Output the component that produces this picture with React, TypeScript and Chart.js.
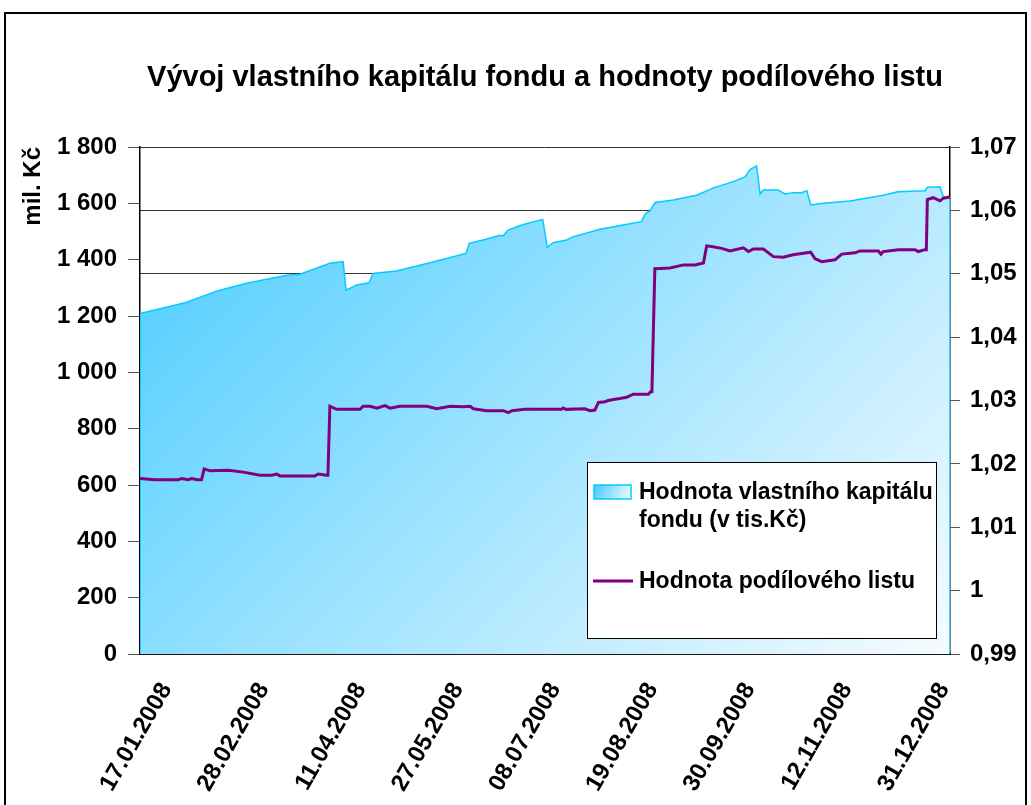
import React, { useEffect, useRef } from "react";
import { Chart, registerables } from "chart.js";

Chart.register(...registerables);

// ---------- data ----------
const chartTitle = "Vývoj vlastního kapitálu fondu a hodnoty podílového listu";
const yAxisTitle = "mil. Kč";
const legendLines = [
  ["Hodnota vlastního kapitálu", "fondu (v tis.Kč)"],
  ["Hodnota podílového listu"],
];

// x = trading-day index (0 = first day shown)
const xTickIndex = [10, 40, 70, 100, 130, 160, 190, 220, 250];
const xTickLabels = [
  "17.01.2008", "28.02.2008", "11.04.2008", "27.05.2008", "08.07.2008",
  "19.08.2008", "30.09.2008", "12.11.2008", "31.12.2008",
];

const capitalIdx = [0, 13.9, 24.1, 32.9, 45.3, 49.4, 58.6, 62.7, 63.6, 66.9, 70.7, 71.9, 79.2, 89.5, 100.6, 101.6, 105.9, 111.1, 112.0, 113.6, 117.8, 124.3, 125.7, 127.5, 131.7, 133.6, 142.0, 149.1, 154.8, 155.9, 157.4, 159.0, 164.6, 171.8, 177.0, 183.1, 186.7, 188.3, 190.3, 191.4, 192.4, 197.0, 199.1, 201.6, 204.2, 205.8, 207.0, 210.9, 219.1, 223.2, 229.4, 234.0, 242.3, 243.0, 246.9, 247.9, 249.8, 250];
const capitalVal = [1209, 1247, 1290, 1316, 1345, 1348, 1387, 1393, 1292, 1310, 1318, 1351, 1360, 1389, 1422, 1458, 1470, 1487, 1484, 1505, 1523, 1543, 1444, 1460, 1470, 1481, 1508, 1523, 1535, 1562, 1574, 1603, 1612, 1629, 1655, 1677, 1694, 1720, 1733, 1633, 1647, 1647, 1633, 1638, 1638, 1645, 1594, 1600, 1608, 1616, 1629, 1641, 1645, 1657, 1659, 1624, 1617, 1617];

const shareIdx = [0, 4.6, 11.8, 12.9, 14.8, 16.0, 17.6, 19.0, 19.8, 21.6, 27.3, 31.9, 37.0, 40.7, 42.2, 43.2, 54.0, 55.0, 57.6, 58.0, 58.6, 60.7, 67.9, 68.9, 71.0, 73.1, 75.6, 77.2, 80.2, 88.5, 91.6, 95.7, 99.8, 101.9, 102.9, 107.0, 112.1, 113.7, 114.8, 118.8, 130.1, 130.6, 131.5, 137.3, 138.9, 140.4, 141.5, 143.5, 144.5, 146.6, 148.1, 150.2, 152.2, 156.9, 157.6, 158.0, 158.9, 163.6, 167.7, 171.3, 173.9, 174.9, 176.4, 179.5, 182.1, 186.2, 187.8, 189.3, 192.4, 195.5, 198.5, 201.6, 207.0, 208.3, 210.4, 214.5, 216.6, 220.7, 222.2, 227.9, 228.7, 229.4, 234.0, 239.2, 240.2, 242.3, 242.7, 243.0, 244.8, 246.9, 247.9, 249.8, 250];
const shareVal = [1.0177, 1.0175, 1.0175, 1.0177, 1.0175, 1.0177, 1.0175, 1.0175, 1.0192, 1.0189, 1.0190, 1.0187, 1.0182, 1.0182, 1.0184, 1.0181, 1.0181, 1.0184, 1.0182, 1.0182, 1.0291, 1.0286, 1.0286, 1.0291, 1.0291, 1.0288, 1.0292, 1.0288, 1.0291, 1.0291, 1.0287, 1.0291, 1.0290, 1.0291, 1.0287, 1.0284, 1.0284, 1.0281, 1.0284, 1.0286, 1.0286, 1.0288, 1.0286, 1.0287, 1.0284, 1.0285, 1.0297, 1.0298, 1.0300, 1.0302, 1.0303, 1.0305, 1.0310, 1.0310, 1.0314, 1.0314, 1.0508, 1.0509, 1.0514, 1.0514, 1.0517, 1.0544, 1.0543, 1.0540, 1.0536, 1.0541, 1.0535, 1.0539, 1.0539, 1.0527, 1.0526, 1.0530, 1.0534, 1.0524, 1.0519, 1.0522, 1.0531, 1.0533, 1.0536, 1.0536, 1.0531, 1.0535, 1.0538, 1.0538, 1.0535, 1.0538, 1.0538, 1.0617, 1.0620, 1.0615, 1.0619, 1.0621, 1.0622];

// ---------- styling ----------
const FONT = '"Liberation Sans", Arial, Helvetica, sans-serif';
const CYAN = "#00ccff";
const PURPLE = "#800080";
const GRAD_START = "#45cbff";
const GRAD_END = "#f6fbff";

const fmtThousands = (v: number) =>
  v >= 1000 ? Math.floor(v / 1000) + " " + String(v % 1000).padStart(3, "0") : String(v);
const fmtDecimal = (v: number) => String(Math.round(v * 100) / 100).replace(".", ",");

function areaGradient(ctx: CanvasRenderingContext2D, a: { left: number; top: number; right: number; bottom: number }) {
  const s = (a.right - a.left + (a.bottom - a.top)) / 2;
  const g = ctx.createLinearGradient(a.left, a.top, a.left + s, a.top + s);
  g.addColorStop(0, GRAD_START);
  g.addColorStop(1, GRAD_END);
  return g;
}

const framePlugin = {
  id: "frameAndTitle",
  beforeDraw(chart: any) {
    const ctx = chart.ctx as CanvasRenderingContext2D;
    ctx.save();
    ctx.fillStyle = "#ffffff";
    ctx.fillRect(0, 0, chart.width, chart.height);
    ctx.strokeStyle = "#000";
    ctx.lineWidth = 2;
    ctx.beginPath();
    ctx.moveTo(5, chart.height + 5);
    ctx.lineTo(5, 13);
    ctx.lineTo(1026, 13);
    ctx.lineTo(1026, chart.height + 5);
    ctx.stroke();
    ctx.fillStyle = "#000";
    ctx.font = `bold 29px ${FONT}`;
    ctx.textAlign = "center";
    ctx.textBaseline = "middle";
    ctx.fillText(chartTitle, 545, 78);
    ctx.restore();
  },
};

const legendPlugin = {
  id: "customLegend",
  afterDraw(chart: any) {
    const ctx = chart.ctx as CanvasRenderingContext2D;
    ctx.save();
    const bx = 587, by = 462, bw = 349, bh = 176;
    ctx.fillStyle = "#fff";
    ctx.fillRect(bx, by, bw, bh);
    ctx.strokeStyle = "#000";
    ctx.lineWidth = 1;
    ctx.strokeRect(bx + 0.5, by + 0.5, bw, bh);

    // area symbol
    const g = ctx.createLinearGradient(594, 485, 631, 499);
    g.addColorStop(0, GRAD_START);
    g.addColorStop(1, GRAD_END);
    ctx.fillStyle = g;
    ctx.fillRect(594, 485, 37, 14);
    ctx.strokeStyle = CYAN;
    ctx.lineWidth = 1.5;
    ctx.strokeRect(594, 485, 37, 14);

    // line symbol
    ctx.strokeStyle = PURPLE;
    ctx.lineWidth = 3;
    ctx.beginPath();
    ctx.moveTo(593, 581);
    ctx.lineTo(633, 581);
    ctx.stroke();

    ctx.fillStyle = "#000";
    ctx.font = `bold 23px ${FONT}`;
    ctx.textAlign = "left";
    ctx.textBaseline = "middle";
    ctx.fillText(legendLines[0][0], 639, 493);
    ctx.fillText(legendLines[0][1], 639, 521);
    ctx.fillText(legendLines[1][0], 639, 582);
    ctx.restore();
  },
};

export default function App() {
  const ref = useRef<HTMLCanvasElement | null>(null);

  useEffect(() => {
    if (!ref.current) return;
    const capitalPts = [
      { x: capitalIdx[0], y: 0 },
      ...capitalIdx.map((x, i) => ({ x, y: capitalVal[i] })),
      { x: capitalIdx[capitalIdx.length - 1], y: 0 },
    ];
    const sharePts = shareIdx.map((x, i) => ({ x, y: shareVal[i] }));
    const tickFont = { family: FONT, size: 24, weight: "bold" as const };

    const chart = new Chart(ref.current, {
      type: "line",
      data: {
        datasets: [
          {
            label: legendLines[1].join(" "),
            data: sharePts,
            yAxisID: "y1",
            borderColor: PURPLE,
            borderWidth: 3,
            pointRadius: 0,
            fill: false,
            tension: 0,
            order: 1,
          },
          {
            label: legendLines[0].join(" "),
            data: capitalPts,
            yAxisID: "y",
            borderColor: CYAN,
            borderWidth: 1.5,
            pointRadius: 0,
            tension: 0,
            fill: "origin",
            order: 2,
            backgroundColor: (c: any) => {
              const a = c.chart.chartArea;
              if (!a) return "#7fd8ff";
              return areaGradient(c.chart.ctx, a);
            },
          },
        ],
      },
      options: {
        animation: false,
        responsive: false,
        devicePixelRatio: 1,
        layout: { padding: { top: 147, left: 0, right: 0, bottom: 0 } },
        plugins: {
          legend: { display: false },
          tooltip: { enabled: false },
          title: { display: false },
        },
        scales: {
          x: {
            type: "linear",
            min: 0,
            max: 250,
            afterBuildTicks: (s: any) => {
              s.ticks = xTickIndex.map((v) => ({ value: v }));
            },
            afterFit: (s: any) => {
              s.height = 151;
            },
            grid: { display: false, drawTicks: false },
            border: { display: true, color: "#000", width: 1.5 },
            ticks: {
              autoSkip: false,
              minRotation: 60,
              maxRotation: 60,
              padding: 24,
              labelOffset: -6,
              color: "#000",
              font: tickFont,
              callback: (v: any) => {
                const i = xTickIndex.indexOf(Number(v));
                return i >= 0 ? xTickLabels[i] : "";
              },
            },
          },
          y: {
            position: "left",
            min: 0,
            max: 1800,
            afterFit: (s: any) => {
              s.width = 140;
            },
            grid: { drawOnChartArea: false, tickLength: 12, tickColor: "#555" },
            border: { display: true, color: "#000", width: 1.5 },
            ticks: {
              stepSize: 200,
              padding: 11,
              color: "#000",
              font: tickFont,
              callback: (v: any) => fmtThousands(Number(v)),
            },
            title: {
              display: true,
              text: yAxisTitle,
              align: "end",
              color: "#000",
              padding: { top: 19, bottom: 0 },
              font: { family: FONT, size: 24, weight: "bold", lineHeight: 1.2 },
            },
          },
          y1: {
            position: "right",
            min: 0.99,
            max: 1.07,
            afterFit: (s: any) => {
              s.width = 81;
            },
            grid: { drawOnChartArea: true, color: "#333", lineWidth: 1, tickLength: 10, tickColor: "#555" },
            border: { display: true, color: "#000", width: 1.5 },
            ticks: {
              stepSize: 0.01,
              padding: 10,
              color: "#000",
              font: tickFont,
              callback: (v: any) => fmtDecimal(Number(v)),
            },
          },
        },
      },
      plugins: [framePlugin, legendPlugin],
    } as any);

    return () => chart.destroy();
  }, []);

  return (
    <div style={{ position: "absolute", left: 0, top: 0, width: 1031, height: 805 }}>
      <canvas ref={ref} width={1031} height={805} style={{ display: "block" }} />
    </div>
  );
}
